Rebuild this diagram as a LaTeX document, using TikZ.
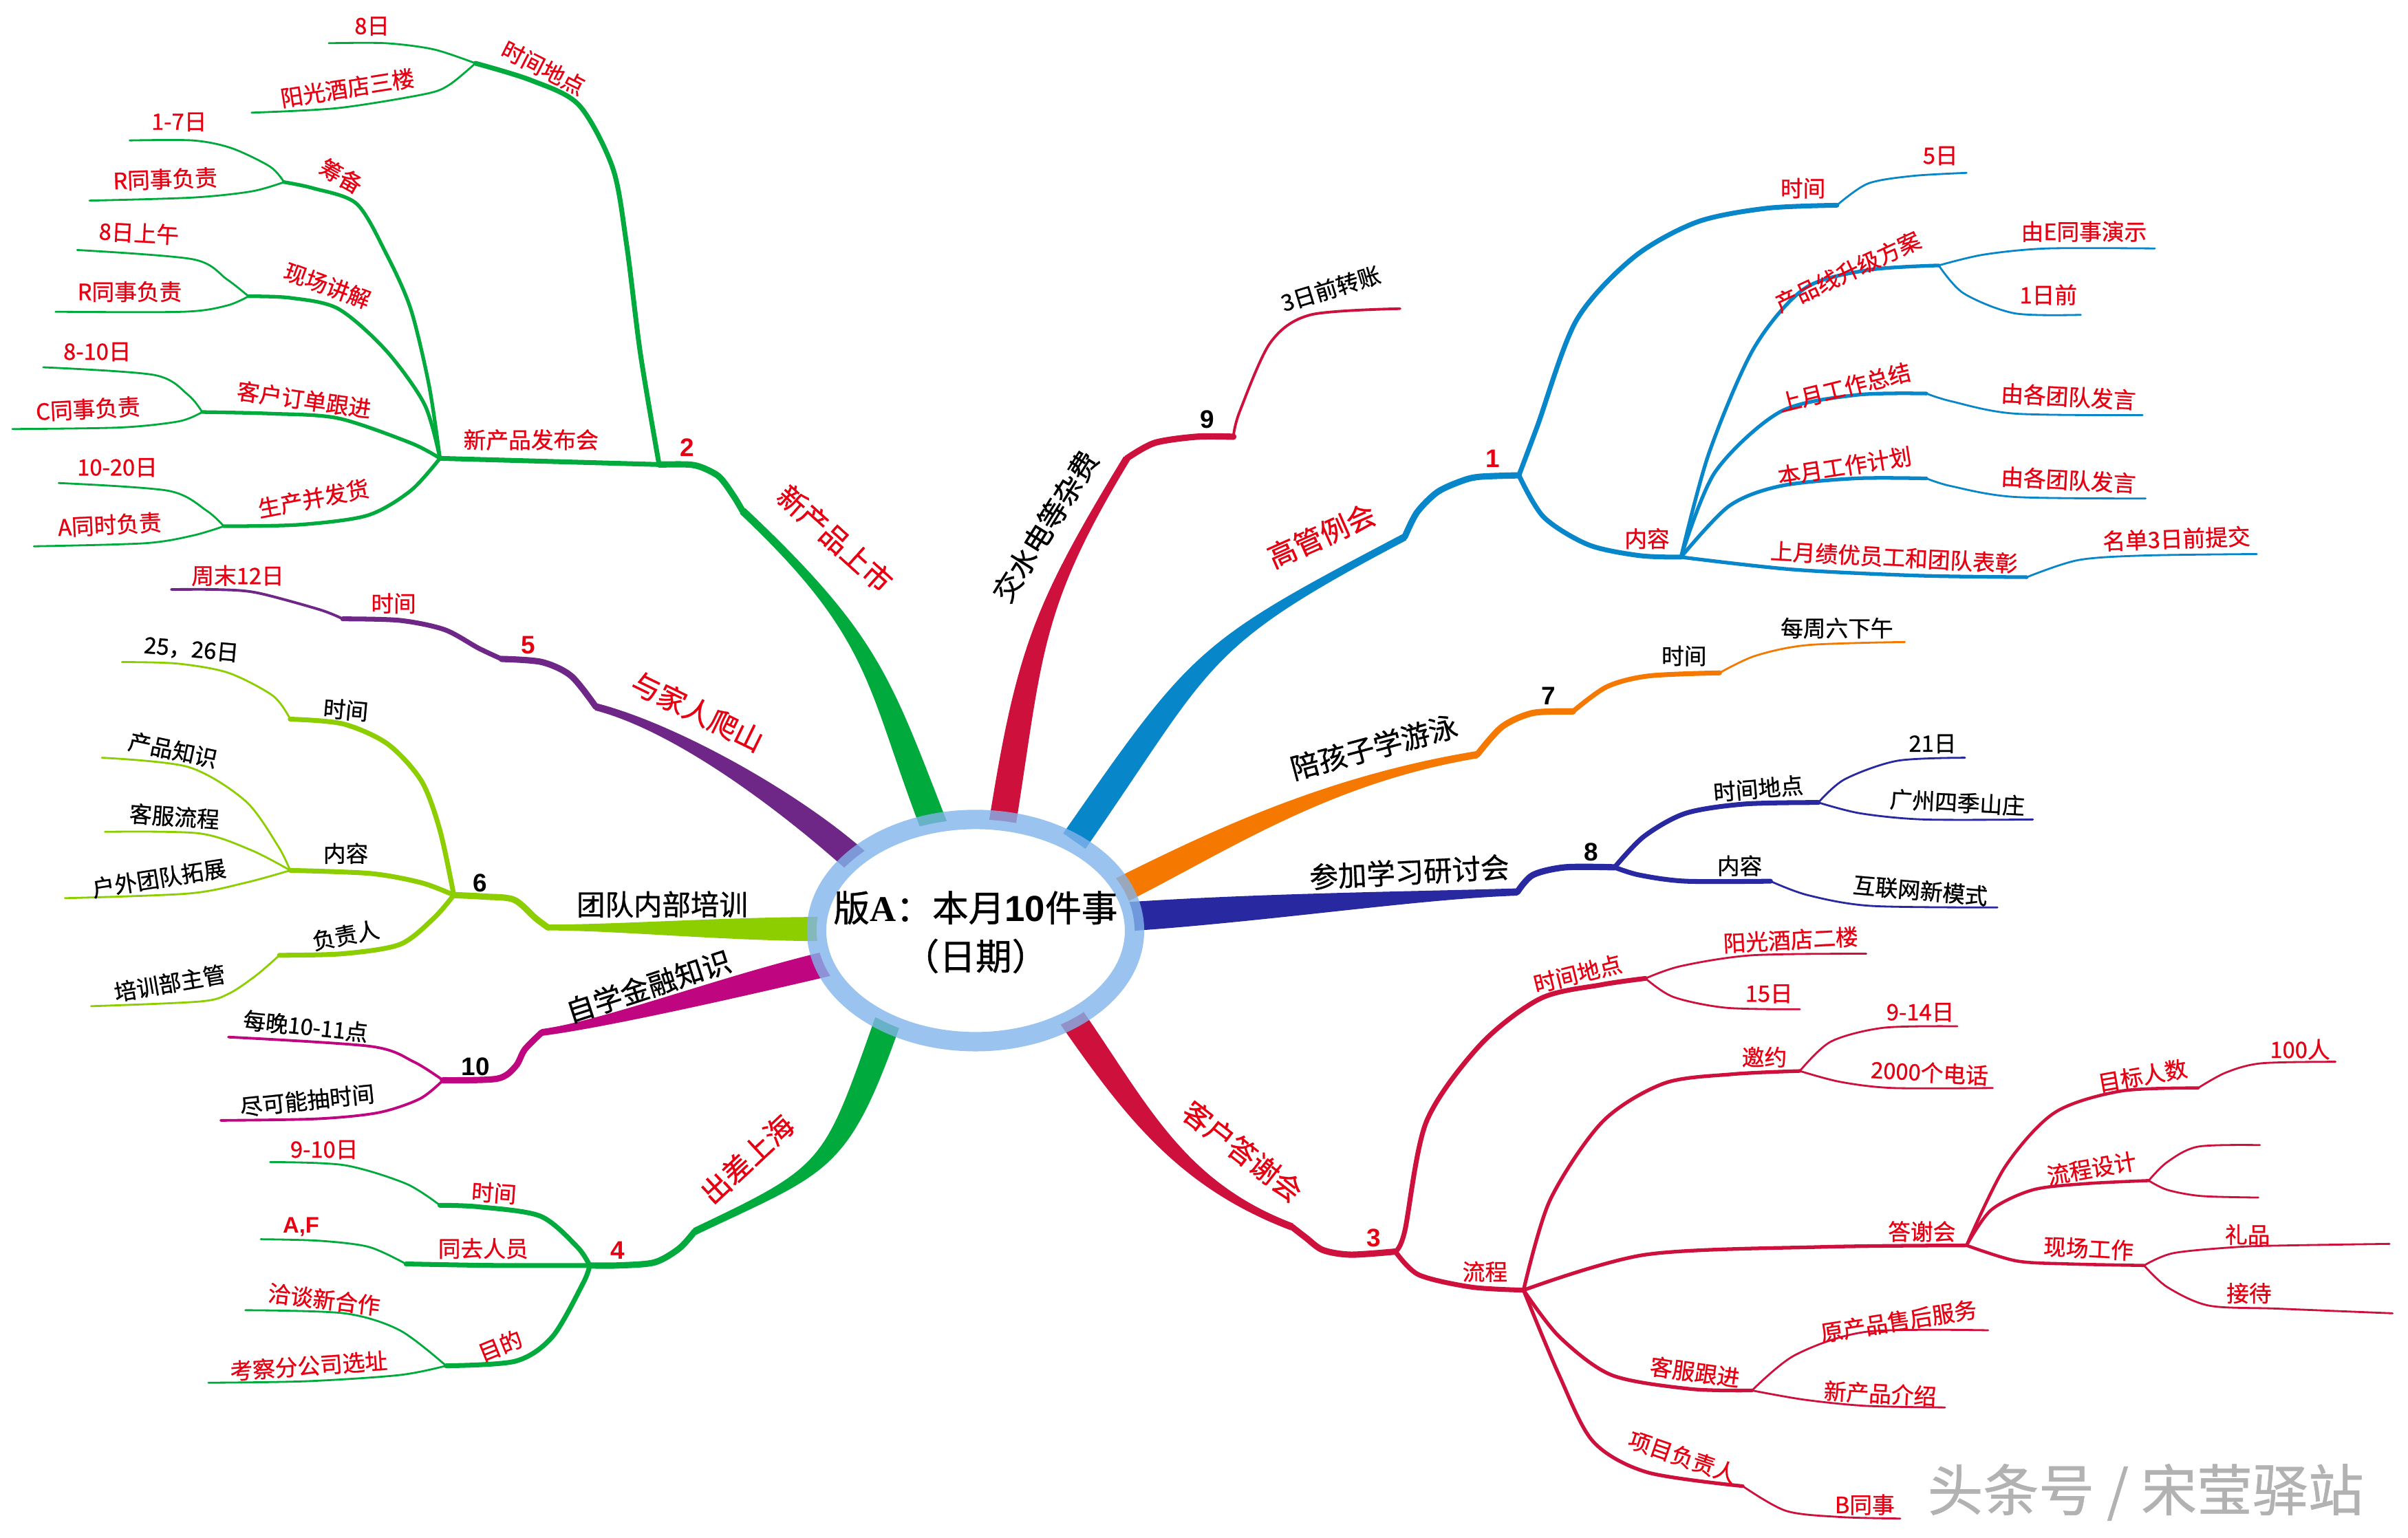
\documentclass[tikz,border=0pt]{standalone}
\usepackage{fontspec}
\setmainfont{Noto Sans CJK SC}[FakeBold=0.8]
\newfontfamily\numfont{Liberation Sans}
\newfontfamily\serfont{Liberation Serif}
\usetikzlibrary{calc}
\definecolor{cgreen}{RGB}{0,170,60}
\definecolor{cpurple}{RGB}{110,38,135}
\definecolor{clime}{RGB}{140,206,0}
\definecolor{cmag}{RGB}{192,5,128}
\definecolor{ccrim}{RGB}{205,16,60}
\definecolor{cblue}{RGB}{8,134,202}
\definecolor{corange}{RGB}{245,120,0}
\definecolor{cnavy}{RGB}{40,40,160}
\definecolor{cring}{RGB}{130,180,235}
\definecolor{tred}{RGB}{230,0,18}
% tapered main branch: start, ctrl1, ctrl2, end, half width start, half width end, colour
\newcommand\taperbranch[7]{%
  \fill[#7] ($(#1)!#5!90:(#2)$) .. controls ($(#2)!#5!-90:(#1)$) and ($(#3)!#6!90:(#4)$) .. ($(#4)!#6!-90:(#3)$)
    -- ($(#4)!#6!90:(#3)$) .. controls ($(#3)!#6!-90:(#4)$) and ($(#2)!#5!90:(#1)$) .. ($(#1)!#5!-90:(#2)$) -- cycle;}
\begin{document}
\begin{tikzpicture}[x=0.022436cm,y=-0.022436cm,
  lvA/.style={line width=2.6pt,line cap=round,line join=round},
  lvB/.style={line width=2.0pt,line cap=round,line join=round},
  lvC/.style={line width=1.5pt,line cap=round,line join=round},
  lf/.style={line width=0.8pt,line cap=round,line join=round},
  lab/.style={inner sep=0pt,font=\fontsize{9.3}{10}\selectfont},
  rl/.style={lab,text=tred},
  bl/.style={lab,text=black},
  ml/.style={inner sep=0pt,font=\fontsize{11.8}{13}\selectfont},
  rn/.style={inner sep=0pt,font=\numfont\bfseries\fontsize{10.5}{12}\selectfont,text=tred},
  bn/.style={inner sep=0pt,font=\numfont\bfseries\fontsize{10.5}{12}\selectfont,text=black}]
\useasboundingbox (0,0) rectangle (1560,996.2);
\fill[white] (0,0) rectangle (1560,996.2);

% ================= main tapered branches =================
\coordinate (g2s) at (607,540); \coordinate (g2a) at (569,443); \coordinate (g2b) at (569,414); \coordinate (g2e) at (481,331);
\taperbranch{g2s}{g2a}{g2b}{g2e}{5.6pt}{1.6pt}{cgreen}
\coordinate (p5s) at (556,559); \coordinate (p5a) at (515,522); \coordinate (p5b) at (440,472); \coordinate (p5e) at (386,458);
\taperbranch{p5s}{p5a}{p5b}{p5e}{5.4pt}{1.5pt}{cpurple}
\coordinate (l6s) at (535,602); \coordinate (l6a) at (470,602); \coordinate (l6b) at (400,601); \coordinate (l6e) at (355,601);
\taperbranch{l6s}{l6a}{l6b}{l6e}{5pt}{1.2pt}{clime}
\coordinate (m10s) at (538,624); \coordinate (m10a) at (470,640); \coordinate (m10b) at (390,664); \coordinate (m10e) at (351,669);
\taperbranch{m10s}{m10a}{m10b}{m10e}{5.2pt}{1.4pt}{cmag}
\coordinate (g4s) at (575,662); \coordinate (g4a) at (541,758); \coordinate (g4b) at (536,757); \coordinate (g4e) at (450,798);
\taperbranch{g4s}{g4a}{g4b}{g4e}{5.4pt}{1.5pt}{cgreen}
\coordinate (c9s) at (649,536); \coordinate (c9a) at (667,423); \coordinate (c9b) at (671,394); \coordinate (c9e) at (730,297);
\taperbranch{c9s}{c9a}{c9b}{c9e}{5.6pt}{1.5pt}{ccrim}
\coordinate (b1s) at (696,545); \coordinate (b1a) at (780,424); \coordinate (b1b) at (777,418); \coordinate (b1e) at (910,348);
\taperbranch{b1s}{b1a}{b1b}{b1e}{5.6pt}{1.5pt}{cblue}
\coordinate (o7s) at (724,578); \coordinate (o7a) at (790,545); \coordinate (o7b) at (860,505); \coordinate (o7e) at (957,489);
\taperbranch{o7s}{o7a}{o7b}{o7e}{5.4pt}{1.5pt}{corange}
\coordinate (n8s) at (730,594); \coordinate (n8a) at (820,588); \coordinate (n8b) at (920,580); \coordinate (n8e) at (983,578);
\taperbranch{n8s}{n8a}{n8b}{n8e}{6pt}{1.5pt}{cnavy}
\coordinate (c3s) at (694,659); \coordinate (c3a) at (737,721); \coordinate (c3b) at (766,768); \coordinate (c3e) at (837,795);
\taperbranch{c3s}{c3a}{c3b}{c3e}{5.4pt}{1.5pt}{ccrim}

% ================= branch 2 (green, top left) =================
\coordinate (J2) at (427,301);
\coordinate (TD2) at (308,41);
\coordinate (NP) at (285,297);
\coordinate (CB) at (184,118);
\coordinate (XC) at (161,192);
\coordinate (KH) at (131,267);
\coordinate (SC) at (145,341);
\begin{scope}[cgreen]
\draw[lvA] plot[smooth] coordinates {(g2e) (475,321) (466,309) (455,303) (446,301) (J2)};
\draw[lvB] plot[smooth] coordinates {(J2) (415,230) (406,159) (397,109) (375,68) (344,52) (TD2)};
\draw[lf] plot[smooth] coordinates {(TD2) (281,32) (250,28) (213,28)};
\draw[lf] plot[smooth] coordinates {(TD2) (291,55) (275,61) (219,70) (163,73)};
\draw[lvB] plot[smooth] coordinates {(J2) (356,299) (NP)};
\draw[lvC] plot[smooth] coordinates {(NP) (278,250) (266,200) (250,164) (231,132) (203,122) (CB)};
\draw[lf] plot[smooth] coordinates {(CB) (175,108) (150,96) (125,91) (84,91)};
\draw[lf] plot[smooth] coordinates {(CB) (163,124) (125,128) (58,130)};
\draw[lvC] plot[smooth] coordinates {(NP) (275,262) (250,227) (219,200) (188,193) (XC)};
\draw[lf] plot[smooth] coordinates {(XC) (147,181) (125,168) (50,162)};
\draw[lf] plot[smooth] coordinates {(XC) (147,198) (119,202) (36,202)};
\draw[lvC] plot[smooth] coordinates {(NP) (266,287) (219,271) (175,268) (KH)};
\draw[lf] plot[smooth] coordinates {(KH) (122,256) (100,243) (28,238)};
\draw[lf] plot[smooth] coordinates {(KH) (116,273) (78,277) (8,278)};
\draw[lvC] plot[smooth] coordinates {(NP) (266,318) (238,334) (194,340) (SC)};
\draw[lf] plot[smooth] coordinates {(SC) (134,331) (109,318) (38,313)};
\draw[lf] plot[smooth] coordinates {(SC) (125,347) (94,352) (22,354)};
\end{scope}

% ================= branch 5 (purple) =================
\coordinate (J5) at (325,427);
\coordinate (T5) at (222,401);
\begin{scope}[cpurple]
\draw[lvA] plot[smooth] coordinates {(p5e) (370,438) (351,429) (J5)};
\draw[lvB] plot[smooth] coordinates {(J5) (310,420) (288,408) (259,402) (T5)};
\draw[lf,line width=1.1pt] plot[smooth] coordinates {(T5) (207,395) (166,384) (140,382) (111,382)};
\end{scope}

% ================= branch 6 (lime) =================
\coordinate (J6) at (294,580);
\coordinate (T6) at (188,466);
\coordinate (N6) at (188,564);
\coordinate (F6) at (181,619);
\begin{scope}[clime]
\draw[lvA] plot[smooth] coordinates {(l6e) (347,595) (333,583) (314,581) (J6)};
\draw[lvB] plot[smooth] coordinates {(J6) (285,538) (273,506) (251,482) (222,469) (T6)};
\draw[lf] plot[smooth] coordinates {(T6) (177,451) (148,436) (115,430) (79,429)};
\draw[lvB] plot[smooth] coordinates {(J6) (273,572) (240,566) (N6)};
\draw[lf] plot[smooth] coordinates {(N6) (180,548) (159,519) (122,497) (66,491)};
\draw[lf] plot[smooth] coordinates {(N6) (163,551) (129,540) (68,539)};
\draw[lf] plot[smooth] coordinates {(N6) (159,572) (122,579) (42,582)};
\draw[lvB] plot[smooth] coordinates {(J6) (281,595) (259,612) (222,618) (F6)};
\draw[lf] plot[smooth] coordinates {(F6) (166,632) (148,644) (129,649) (59,652)};
\end{scope}

% ================= branch 10 (magenta) =================
\coordinate (J10) at (287,700);
\begin{scope}[cmag]
\draw[lvA] plot[smooth] coordinates {(m10e) (340,680) (334,691) (322,699) (J10)};
\draw[lf,line width=1.1pt] plot[smooth] coordinates {(J10) (268,688) (240,678) (148,672)};
\draw[lf,line width=1.1pt] plot[smooth] coordinates {(J10) (272,712) (245,721) (205,725) (143,726)};
\end{scope}

% ================= branch 4 (green, bottom left) =================
\coordinate (J4) at (382,820);
\coordinate (T4) at (285,781);
\coordinate (R4) at (263,819);
\coordinate (M4) at (289,885);
\begin{scope}[cgreen]
\draw[lvA] plot[smooth] coordinates {(g4e) (440,809) (424,818) (400,820) (J4)};
\draw[lvB] plot[smooth] coordinates {(J4) (374,808) (350,788) (310,782) (T4)};
\draw[lf] plot[smooth] coordinates {(T4) (263,767) (223,755) (175,753)};
\draw[lvB] plot[smooth] coordinates {(J4) (320,820) (R4)};
\draw[lf] plot[smooth] coordinates {(R4) (239,808) (207,804) (169,803)};
\draw[lvB] plot[smooth] coordinates {(J4) (378,831) (358,866) (334,882) (M4)};
\draw[lf] plot[smooth] coordinates {(M4) (259,862) (223,851) (159,849)};
\draw[lf] plot[smooth] coordinates {(M4) (259,891) (199,895) (135,896)};
\end{scope}

% ================= branch 9 (crimson, top) =================
\coordinate (J9) at (799,283);
\begin{scope}[ccrim]
\draw[lvA] plot[smooth] coordinates {(c9e) (748,287) (775,283) (J9)};
\draw[lf,line width=1.1pt] plot[smooth] coordinates {(J9) (803,267) (823,222) (849,204) (907,200)};
\end{scope}

% ================= branch 1 (blue) =================
\coordinate (J1) at (984,308);
\coordinate (T1) at (1190,133);
\coordinate (JN) at (1089,361);
\coordinate (PX) at (1256,172);
\coordinate (SZ) at (1248,255);
\coordinate (BJ) at (1248,310);
\coordinate (SY) at (1313,374);
\begin{scope}[cblue]
\draw[lvA] plot[smooth] coordinates {(b1e) (918,332) (931,319) (946,312) (958,309) (J1)};
\draw[lvB] plot[smooth] coordinates {(J1) (996,276) (1021,208) (1058,167) (1099,144) (1144,135) (T1)};
\draw[lf] plot[smooth] coordinates {(T1) (1210,119) (1239,114) (1274,112)};
\draw[lvB] plot[smooth] coordinates {(J1) (1000,335) (1029,353) (1062,360) (JN)};
\draw[lvC] plot[smooth] coordinates {(JN) (1107,294) (1136,226) (1169,187) (1210,175) (PX)};
\draw[lf] plot[smooth] coordinates {(PX) (1285,165) (1326,161) (1396,161)};
\draw[lf] plot[smooth] coordinates {(PX) (1272,190) (1305,203) (1348,204)};
\draw[lvC] plot[smooth] coordinates {(JN) (1111,306) (1153,267) (1202,256) (SZ)};
\draw[lf] plot[smooth] coordinates {(SZ) (1264,260) (1305,268) (1388,269)};
\draw[lvC] plot[smooth] coordinates {(JN) (1120,328) (1153,315) (1202,310) (BJ)};
\draw[lf] plot[smooth] coordinates {(BJ) (1264,315) (1305,322) (1390,323)};
\draw[lvC] plot[smooth] coordinates {(JN) (1161,369) (1243,373) (SY)};
\draw[lf] plot[smooth] coordinates {(SY) (1346,363) (1388,360) (1462,359)};
\end{scope}

% ================= branch 7 (orange) =================
\coordinate (J7) at (1019,461);
\coordinate (T7) at (1114,436);
\begin{scope}[corange]
\draw[lvA] plot[smooth] coordinates {(o7e) (973,471) (993,462) (J7)};
\draw[lvB] plot[smooth] coordinates {(J7) (1041,445) (1068,438) (T7)};
\draw[lf] plot[smooth] coordinates {(T7) (1137,425) (1171,418) (1234,416)};
\end{scope}

% ================= branch 8 (navy) =================
\coordinate (J8) at (1046,562);
\coordinate (TD8) at (1178,520);
\coordinate (N8) at (1147,571);
\begin{scope}[cnavy]
\draw[lvA] plot[smooth] coordinates {(n8e) (993,567) (1014,562) (J8)};
\draw[lvB] plot[smooth] coordinates {(J8) (1065,542) (1092,527) (1130,521) (TD8)};
\draw[lf] plot[smooth] coordinates {(TD8) (1195,505) (1229,493) (1273,491)};
\draw[lf] plot[smooth] coordinates {(TD8) (1205,527) (1246,531) (1317,531)};
\draw[lvB] plot[smooth] coordinates {(J8) (1062,567) (1092,571) (N8)};
\draw[lf] plot[smooth] coordinates {(N8) (1171,580) (1212,587) (1294,588)};
\end{scope}

% ================= branch 3 (crimson, bottom right) =================
\coordinate (J3) at (904,811);
\coordinate (TD3) at (1066,634);
\coordinate (LC) at (987,836);
\coordinate (YY) at (1166,694);
\coordinate (DX) at (1274,807);
\coordinate (MB) at (1424,705);
\coordinate (LS) at (1392,765);
\coordinate (XG) at (1389,820);
\coordinate (KF) at (1135,901);
\coordinate (XM) at (1129,963);
\begin{scope}[ccrim]
\draw[lvA] plot[smooth] coordinates {(c3e) (846,802) (857,810) (875,813) (J3)};
\draw[lvB] plot[smooth] coordinates {(J3) (910,798) (924,727) (959,677) (998,647) (1038,638) (TD3)};
\draw[lf] plot[smooth] coordinates {(TD3) (1089,626) (1135,619) (1209,618)};
\draw[lf] plot[smooth] coordinates {(TD3) (1084,646) (1118,653) (1166,654)};
\draw[lvB] plot[smooth] coordinates {(J3) (919,826) (953,834) (LC)};
\draw[lvC] plot[smooth] coordinates {(LC) (1004,778) (1038,727) (1078,702) (1123,696) (YY)};
\draw[lf] plot[smooth] coordinates {(YY) (1186,675) (1220,666) (1268,665)};
\draw[lf] plot[smooth] coordinates {(YY) (1192,701) (1226,705) (1291,705)};
\draw[lvC] plot[smooth] coordinates {(LC) (1066,813) (1180,808) (DX)};
\draw[lvC,line width=1.3pt] plot[smooth] coordinates {(DX) (1299,756) (1331,721) (1374,707) (MB)};
\draw[lf] plot[smooth] coordinates {(MB) (1442,695) (1465,689) (1513,688)};
\draw[lvC,line width=1.3pt] plot[smooth] coordinates {(DX) (1290,784) (1317,771) (1351,767) (LS)};
\draw[lf] plot[smooth] coordinates {(LS) (1404,753) (1424,743) (1464,742)};
\draw[lf] plot[smooth] coordinates {(LS) (1404,771) (1426,775) (1463,776)};
\draw[lvC,line width=1.3pt] plot[smooth] coordinates {(DX) (1306,817) (1340,819) (XG)};
\draw[lf] plot[smooth] coordinates {(XG) (1408,812) (1450,808) (1483,807) (1548,806)};
\draw[lf] plot[smooth] coordinates {(XG) (1404,834) (1431,846) (1476,848) (1550,851)};
\draw[lvC] plot[smooth] coordinates {(LC) (1010,866) (1044,891) (1095,900) (KF)};
\draw[lf] plot[smooth] coordinates {(KF) (1163,878) (1209,863) (1288,862)};
\draw[lf] plot[smooth] coordinates {(KF) (1169,907) (1209,911) (1260,912)};
\draw[lvC] plot[smooth] coordinates {(LC) (1010,891) (1032,934) (1067,954) (XM)};
\draw[lf] plot[smooth] coordinates {(XM) (1157,979) (1192,983) (1231,984)};
\end{scope}

% ================= centre =================
\coordinate (ctrpt) at (632,603);
\fill[white] (ctrpt) ellipse [x radius=2.31cm, y radius=1.615cm];
\draw[cring, line width=8pt, opacity=0.8] (ctrpt) ellipse [x radius=2.31cm, y radius=1.615cm];
\node[align=center, inner sep=0pt, font=\fontsize{15}{20}\selectfont] (ctr) at (632,604)
  {版{\serfont\bfseries A}：本月{\numfont\bfseries 10}件事\\（日期）};

% ================= labels =================
% branch 2
\node[ml,text=tred,rotate=-42] (L2) at (541,349) {新产品上市};
\node[rn] (n2) at (445,290) {2};
\node[rl,rotate=-27] (a1) at (352,44) {时间地点};
\node[rl] (a2) at (241,17) {8日};
\node[rl,rotate=9] (a3) at (225,57) {阳光酒店三楼};
\node[rl] (a4) at (344,285) {新产品发布会};
\node[rl,rotate=-29] (a5) at (221,114) {筹备};
\node[rl] (a6) at (116,79) {1-7日};
\node[rl,rotate=2] (a7) at (107,116) {R同事负责};
\node[rl,rotate=-20] (a8) at (212,185) {现场讲解};
\node[rl,rotate=-3] (a9) at (90,151) {8日上午};
\node[rl] (a10) at (84,189) {R同事负责};
\node[rl,rotate=-8] (a11) at (197,259) {客户订单跟进};
\node[rl] (a12) at (63,228) {8-10日};
\node[rl,rotate=3] (a13) at (57,265) {C同事负责};
\node[rl,rotate=11] (a14) at (203,323) {生产并发货};
\node[rl] (a15) at (76,303) {10-20日};
\node[rl,rotate=3] (a16) at (71,340) {A同时负责};
% branch 5
\node[ml,text=tred,rotate=-26] (L5) at (452,461) {与家人爬山};
\node[rn] (n5) at (342,418) {5};
\node[rl] (b1) at (255,391) {时间};
\node[rl] (b2) at (154,373) {周末12日};
% branch 6
\node[ml] (L6) at (429,586) {团队内部培训};
\node[bn] (n6) at (311,572) {6};
\node[bl,rotate=-5] (c1) at (224,460) {时间};
\node[bl,rotate=-5] (c2) at (124,421) {25，26日};
\node[bl] (c3) at (224,553) {内容};
\node[bl,rotate=-12] (c4) at (112,486) {产品知识};
\node[bl,rotate=-4] (c5) at (113,529) {客服流程};
\node[bl,rotate=9] (c6) at (103,569) {户外团队拓展};
\node[bl,rotate=11] (c7) at (224,606) {负责人};
\node[bl,rotate=10] (c8) at (110,637) {培训部主管};
% branch 10
\node[ml,rotate=18] (L10) at (420,639) {自学金融知识};
\node[bn] (n10) at (308,691) {10};
\node[bl,rotate=-6] (d1) at (198,665) {每晚10-11点};
\node[bl,rotate=6] (d2) at (199,713) {尽可能抽时间};
% branch 4
\node[ml,text=tred,rotate=43] (L4) at (484,751) {出差上海};
\node[rn] (n4) at (400,810) {4};
\node[rl,rotate=-4] (e1) at (320,773) {时间};
\node[rl] (e2) at (210,745) {9-10日};
\node[rl] (e3) at (313,809) {同去人员};
\node[rl,font=\numfont\bfseries\fontsize{9.3}{10}\selectfont] (e4) at (195,795) {A,F};
\node[rl,rotate=22] (e5) at (324,872) {目的};
\node[rl,rotate=-7] (e6) at (210,842) {洽谈新合作};
\node[rl,rotate=4] (e7) at (200,885) {考察分公司选址};
% branch 9
\node[ml,rotate=58] (L9) at (677,341) {交水电等杂费};
\node[bn] (n9) at (782,272) {9};
\node[bl,rotate=17] (f1) at (862,187) {3日前转账};
% branch 1
\node[ml,text=tred,rotate=24] (L1) at (856,347) {高管例会};
\node[rn] (n1) at (967,297) {1};
\node[rl] (g1) at (1168,122) {时间};
\node[rl] (g2) at (1257,101) {5日};
\node[rl] (g3) at (1067,349) {内容};
\node[rl,rotate=25] (g4) at (1197,176) {产品线升级方案};
\node[rl] (g5) at (1350,150) {由E同事演示};
\node[rl] (g6) at (1327,191) {1日前};
\node[rl,rotate=14] (g7) at (1195,251) {上月工作总结};
\node[rl,rotate=-3] (g8) at (1340,257) {由各团队发言};
\node[rl,rotate=9] (g9) at (1195,302) {本月工作计划};
\node[rl,rotate=-3] (g10) at (1340,311) {由各团队发言};
\node[rl,rotate=-3] (g11) at (1227,361) {上月绩优员工和团队表彰};
\node[rl,rotate=2] (g12) at (1410,349) {名单3日前提交};
% branch 7
\node[ml,rotate=15] (L7) at (890,484) {陪孩子学游泳};
\node[bn] (n7) at (1003,451) {7};
\node[bl] (h1) at (1091,425) {时间};
\node[bl] (h2) at (1190,407) {每周六下午};
% branch 8
\node[ml,rotate=3] (L8) at (913,565) {参加学习研讨会};
\node[bn] (n8) at (1031,552) {8};
\node[bl,rotate=5] (i1) at (1139,511) {时间地点};
\node[bl] (i2) at (1252,482) {21日};
\node[bl,rotate=-3] (i3) at (1268,520) {广州四季山庄};
\node[bl] (i4) at (1127,561) {内容};
\node[bl,rotate=-5] (i5) at (1244,577) {互联网新模式};
% branch 3
\node[ml,text=tred,rotate=-38] (L3) at (805,746) {客户答谢会};
\node[rn] (n3) at (890,802) {3};
\node[rl,rotate=14] (k1) at (1022,631) {时间地点};
\node[rl,rotate=3] (k2) at (1160,609) {阳光酒店二楼};
\node[rl] (k3) at (1146,644) {15日};
\node[rl] (k4) at (962,824) {流程};
\node[rl] (k5) at (1143,685) {邀约};
\node[rl] (k6) at (1244,656) {9-14日};
\node[rl,rotate=-3] (k7) at (1250,695) {2000个电话};
\node[rl] (k8) at (1245,798) {答谢会};
\node[rl,rotate=10] (k9) at (1388,697) {目标人数};
\node[rl] (k10) at (1490,680) {100人};
\node[rl,rotate=10] (k11) at (1355,757) {流程设计};
\node[rl,rotate=-3] (k12) at (1353,809) {现场工作};
\node[rl] (k13) at (1456,800) {礼品};
\node[rl] (k14) at (1457,838) {接待};
\node[rl,rotate=-8] (k15) at (1098,889) {客服跟进};
\node[rl,rotate=9] (k16) at (1230,856) {原产品售后服务};
\node[rl,rotate=-3] (k17) at (1218,903) {新产品介绍};
\node[rl,rotate=-19] (k18) at (1090,944) {项目负责人};
\node[rl] (k19) at (1208,975) {B同事};
% watermark
\node[inner sep=0pt, font=\fontsize{23}{26}\selectfont, text=gray!60] (wm) at (1390,967) {头条号 / 宋莹驿站};
\end{tikzpicture}
\end{document}
